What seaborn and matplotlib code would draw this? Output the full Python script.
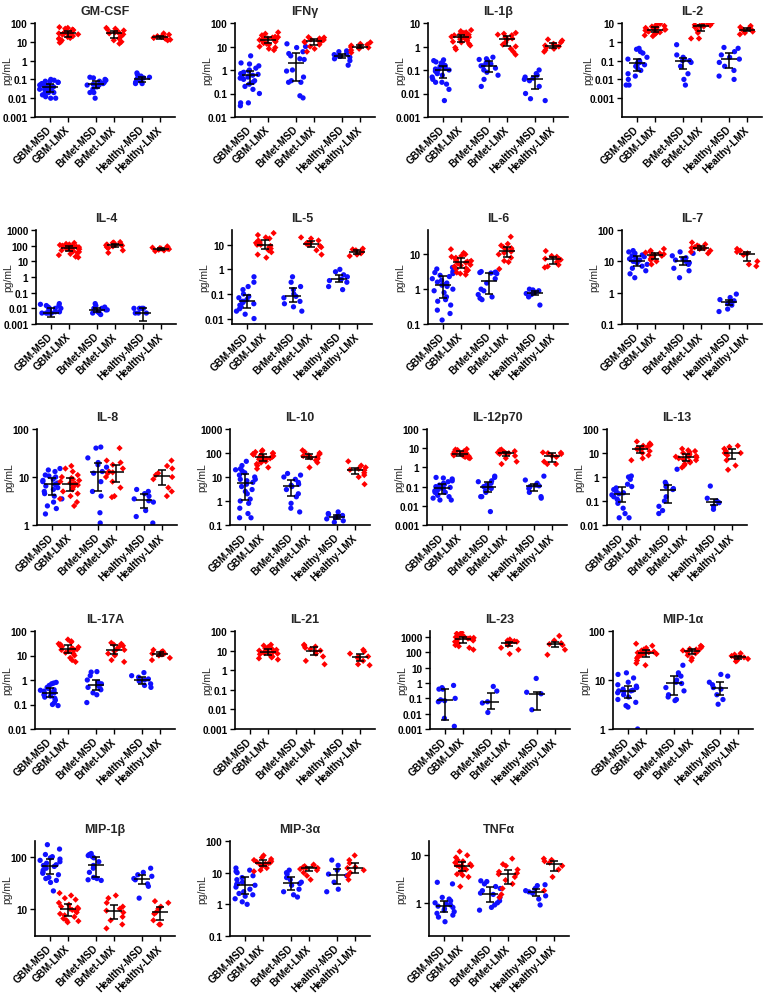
import numpy as np
import pandas as pd
import matplotlib
matplotlib.use("Agg")
import matplotlib.pyplot as plt
import seaborn as sns
from matplotlib.ticker import NullLocator

COHORTS = ["GBM", "BrMet", "Healthy"]
ASSAYS = ["MSD", "LMX"]
TICK_LABELS = ["GBM-MSD", "GBM-LMX", "BrMet-MSD", "BrMet-LMX", "Healthy-MSD", "Healthy-LMX"]
PALETTE = {"MSD": "#1010ff", "LMX": "#ff0000"}

# group order in every list: GBM-MSD, GBM-LMX, BrMet-MSD, BrMet-LMX, Healthy-MSD, Healthy-LMX (pg/mL)
# values < axis minimum are below detection and stay hidden
gm_csf = [
    [0.1, 0.09, 0.08, 0.08, 0.07, 0.07, 0.06, 0.06, 0.05, 0.05, 0.05, 0.04, 0.04, 0.04, 0.04, 0.035, 0.03, 0.03, 0.03, 0.025, 0.02, 0.02, 0.02, 0.015, 0.01, 0.01, 0.012],
    [60, 55, 50, 45, 42, 40, 38, 35, 35, 32, 30, 30, 28, 28, 26, 25, 24, 22, 20, 20, 18, 16, 15, 14, 12, 10, 9],
    [0.13, 0.12, 0.1, 0.09, 0.08, 0.07, 0.06, 0.055, 0.05, 0.05, 0.04, 0.03, 0.02, 0.02, 0.01],
    [55, 50, 45, 40, 35, 32, 30, 28, 25, 20, 15, 12, 10, 8],
    [0.22, 0.18, 0.15, 0.13, 0.12, 0.11, 0.1, 0.08, 0.07, 0.06, 0.06],
    [28, 24, 22, 20, 18, 17, 16, 15, 14, 13, 12],
]
ifn_g = [
    [4, 2, 1.8, 1.5, 1.2, 1, 0.9, 0.8, 0.75, 0.7, 0.65, 0.6, 0.6, 0.5, 0.45, 0.4, 0.35, 0.3, 0.25, 0.2, 0.15, 0.1, 0.04, 0.04, 0.03],
    [40, 35, 30, 28, 26, 25, 24, 22, 21, 20, 20, 19, 18, 17, 16, 15, 14, 13, 12, 10, 9, 8, 7],
    [13, 10, 9, 6, 5, 4, 3, 2.8, 1, 0.9, 0.5, 0.35, 0.3, 0.3, 0.08, 0.065],
    [25, 24, 22, 20, 19, 18, 17, 16, 15, 12, 10, 8, 6],
    [6.5, 6, 5, 4.5, 4, 3.8, 3.5, 3, 2.5, 1.6],
    [15, 13, 12, 11, 10, 9.5, 9, 8, 7, 5.5],
]
il_1b = [
    [0.27, 0.25, 0.22, 0.2, 0.18, 0.16, 0.15, 0.14, 0.12, 0.11, 0.1, 0.1, 0.09, 0.08, 0.07, 0.06, 0.05, 0.04, 0.03, 0.03, 0.025, 0.015, 0.005],
    [5, 4.5, 4, 3.8, 3.5, 3.2, 3, 2.8, 2.6, 2.5, 2.5, 2.4, 2.2, 2, 1.8, 1.6, 1.5, 1.3, 1.1, 0.9, 0.75],
    [0.35, 0.3, 0.28, 0.25, 0.2, 0.18, 0.15, 0.15, 0.12, 0.1, 0.08, 0.06, 0.04, 0.02],
    [3.8, 3.5, 3.2, 3, 2.5, 2.2, 2, 2, 1.5, 1.2, 1, 0.8, 0.6, 0.45],
    [0.1, 0.07, 0.06, 0.05, 0.045, 0.04, 0.035, 0.02, 0.01, 0.006, 0.005],
    [2, 1.8, 1.5, 1.3, 1.2, 1.1, 1, 0.9, 0.8, 0.7, 0.6],
]
il_2 = [
    [0.45, 0.4, 0.3, 0.25, 0.15, 0.12, 0.1, 0.09, 0.08, 0.075, 0.07, 0.06, 0.05, 0.04, 0.03, 0.02, 0.015, 0.01, 0.005, 0.005],
    [11, 9, 8, 7, 6.5, 6, 5.5, 5, 4.8, 4.5, 4.5, 4.2, 4, 3.8, 3.5, 3.2, 3, 2.8, 2.5, 2.2, 2],
    [0.7, 0.2, 0.15, 0.12, 0.1, 0.1, 0.08, 0.05, 0.02, 0.01, 0.005],
    [10, 9, 8.5, 8, 7.5, 7, 6.5, 6, 4, 3, 1.5, 1.5],
    [0.5, 0.45, 0.3, 0.2, 0.15, 0.12, 0.08, 0.05, 0.03, 0.015, 0.01],
    [7, 6, 5.5, 5, 4.5, 4.5, 4, 3.5, 3, 2.5],
]
il_4 = [
    [0.02, 0.018, 0.015, 0.015, 0.012, 0.01, 0.01, 0.01, 0.008, 0.006, 0.006, 0.005, 0.005, 0.005, 0.005, 0.005, 0.005, 0.0005, 0.0005, 0.0005, 0.0005, 0.0005, 0.0005],
    [150, 130, 120, 110, 100, 95, 90, 85, 80, 75, 70, 68, 65, 62, 60, 55, 50, 45, 40, 35, 30, 25, 20, 18],
    [0.02, 0.015, 0.012, 0.01, 0.01, 0.008, 0.008, 0.006, 0.005, 0.005, 0.004],
    [170, 160, 150, 130, 120, 115, 110, 105, 100, 90, 80, 70, 50, 35],
    [0.01, 0.01, 0.01, 0.01, 0.005, 0.005, 0.005, 0.0005, 0.0005, 0.0005],
    [90, 80, 75, 70, 65, 65, 60, 55, 50, 45],
]
il_5 = [
    [0.5, 0.3, 0.2, 0.15, 0.1, 0.08, 0.07, 0.06, 0.05, 0.05, 0.045, 0.04, 0.035, 0.03, 0.025, 0.02, 0.015, 0.01, 0.005],
    [30, 25, 20, 18, 15, 13, 12, 11, 10, 10, 9, 8, 7, 6, 5, 4, 3],
    [0.5, 0.3, 0.2, 0.15, 0.1, 0.08, 0.07, 0.05, 0.04, 0.03, 0.02],
    [20, 18, 15, 13, 12, 11, 10, 9, 8, 6, 4],
    [1, 0.8, 0.6, 0.5, 0.4, 0.35, 0.3, 0.2, 0.15],
    [7, 6.5, 6, 5.5, 5, 4.5, 4, 3.5],
]
il_6 = [
    [4.2, 3.8, 3.2, 3, 2.8, 2.5, 2.3, 2, 1.8, 1.6, 1.5, 1.4, 1.3, 1.2, 1, 0.9, 0.8, 0.6, 0.5, 0.45, 0.35, 0.25, 0.2, 0.13],
    [14, 11, 10, 9, 8.5, 8, 7.5, 7, 6.8, 6.5, 6.2, 6, 5.8, 5.5, 5, 4.8, 4.5, 4, 3.8, 3.5, 3.2, 3, 2.8, 2.6],
    [3.2, 3.1, 3, 3, 2.9, 2.8, 2, 1.5, 1, 0.9, 0.7, 0.6, 0.55, 0.5],
    [32, 20, 18, 16, 15, 14, 13, 12, 11, 10, 8, 6.5, 6, 3.8],
    [1, 0.95, 0.9, 0.85, 0.8, 0.75, 0.7, 0.6, 0.35],
    [12.5, 9, 8.5, 7.5, 7.3, 7, 6, 5, 4.5, 4.2],
]
il_7 = [
    [22, 20, 18, 16, 15, 14, 13, 12, 11, 10, 10, 9, 8, 7, 6, 5, 4, 3],
    [25, 22, 20, 19, 18, 17, 16, 15, 14, 13, 12, 11, 10, 8],
    [20, 18, 15, 13, 12, 11, 10, 9, 8, 6, 5, 3],
    [40, 35, 32, 30, 28, 27, 26, 25, 22, 20, 18],
    [0.9, 0.7, 0.6, 0.55, 0.5, 0.45, 0.4, 0.3, 0.25],
    [25, 22, 20, 18, 17, 16, 10, 8, 7],
]
il_8 = [
    [15, 14, 13, 11, 10.5, 10, 9, 8.5, 8, 7.5, 7, 7, 6.5, 6, 5.5, 5, 4.5, 4, 3.5, 3, 2.5, 2.2, 1.7],
    [17, 15, 13, 11, 10, 9.5, 9, 8.5, 8, 7.5, 7.3, 7, 6.8, 6.5, 6, 5.5, 5, 4.5, 4, 3.5, 3, 2.5],
    [42, 40, 25, 20, 18, 16, 13, 12, 8, 5, 4, 1.8, 1.1],
    [40, 22, 20, 18, 15, 13, 12.5, 12, 10, 8, 6, 4, 3.8],
    [5.5, 5, 4.5, 4, 3.5, 3.2, 3, 2, 1.5, 1.1],
    [22, 17, 15, 12, 11, 10, 9, 6, 5, 4],
]
il_10 = [
    [45, 30, 22, 20, 18, 15, 12, 10, 8, 8, 7, 6, 5, 4, 3, 2.5, 2, 1.2, 1, 0.8, 0.5, 0.3, 0.2, 0.2],
    [130, 120, 110, 100, 95, 90, 85, 80, 75, 70, 68, 65, 62, 60, 58, 55, 50, 45, 40, 35, 30, 25, 22],
    [14, 12, 10, 8, 6, 5, 4.5, 4, 3, 2, 1.5, 0.8, 0.5, 0.35],
    [130, 110, 100, 90, 80, 75, 70, 68, 65, 60, 55, 50, 40, 25],
    [0.35, 0.3, 0.28, 0.25, 0.23, 0.22, 0.2, 0.18, 0.15, 0.13],
    [45, 30, 25, 22, 20, 19, 15, 12, 10, 5],
]
il_12p70 = [
    [0.3, 0.28, 0.25, 0.2, 0.18, 0.15, 0.13, 0.12, 0.1, 0.09, 0.08, 0.08, 0.07, 0.06, 0.05, 0.05, 0.04, 0.035, 0.03, 0.025, 0.02, 0.02],
    [9, 8.5, 8, 7.5, 7, 6.5, 6, 5.5, 5.2, 5, 5, 4.8, 4.5, 4.2, 4, 3.8, 3.5, 3.2, 3],
    [0.35, 0.3, 0.2, 0.18, 0.15, 0.12, 0.1, 0.1, 0.08, 0.06, 0.05, 0.03, 0.03, 0.005],
    [8.5, 8, 7, 6.5, 6, 5.5, 5.5, 5, 4, 3, 2, 1.5],
    [0.35, 0.22, 0.15, 0.12, 0.11, 0.1, 0.08, 0.05, 0.03, 0.025],
    [6, 5.8, 5.5, 5, 4, 3.5, 2, 1.5, 1.5],
]
il_13 = [
    [1.1, 1, 0.8, 0.5, 0.4, 0.35, 0.3, 0.25, 0.22, 0.2, 0.18, 0.15, 0.12, 0.1, 0.08, 0.05, 0.03, 0.02, 0.02],
    [30, 25, 22, 20, 18, 16, 15, 14, 12, 10, 8, 6, 5],
    [2.1, 0.6, 0.5, 0.4, 0.33, 0.3, 0.15, 0.1, 0.06, 0.04, 0.03],
    [15, 13, 12, 11, 10, 9, 8, 7.5, 7, 7, 6.5, 6, 5.5, 5, 4.5, 4, 3.5, 3, 2.5],
    [0.42, 0.13, 0.1, 0.085, 0.06, 0.045],
    [20, 18, 15, 12, 10, 10, 8, 5, 3, 2],
]
il_17a = [
    [0.8, 0.75, 0.7, 0.6, 0.5, 0.45, 0.4, 0.38, 0.35, 0.32, 0.3, 0.3, 0.28, 0.25, 0.22, 0.2, 0.18, 0.15, 0.12, 0.1, 0.09],
    [45, 38, 35, 30, 28, 25, 23, 22, 20, 19, 18, 17, 16, 15, 13, 12, 10, 8, 6.5, 5.5],
    [2.2, 2.1, 1.5, 1, 0.8, 0.7, 0.6, 0.5, 0.45, 0.4, 0.3, 0.25, 0.12],
    [33, 30, 28, 25, 22, 18, 17, 15, 12, 10, 6.5, 5.5],
    [2, 1.5, 1.3, 1.1, 1, 0.9, 0.7, 0.6, 0.5],
    [17, 15, 14, 12, 12, 11, 10, 8, 6.5],
]
il_21 = [
    [],
    [20, 18, 15, 13, 12, 11, 10, 9, 8.5, 8, 7.5, 7, 6.5, 6, 5, 4.5, 4, 3.5],
    [],
    [20, 18, 16, 14, 12, 10, 9, 7, 5, 3, 2],
    [],
    [11, 9, 7, 5, 4.8, 4, 3, 2, 1.8],
]
il_23 = [
    [0.7, 0.5, 0.4, 0.4, 0.1, 0.08, 0.07, 0.06, 0.005, 0.0015, 0.0005, 0.0005],
    [2000, 1700, 1500, 1300, 1100, 1000, 900, 850, 800, 750, 700, 600, 500, 400, 300, 250, 200, 150],
    [0.6, 0.3, 0.06, 0.05, 0.012, 0.0005],
    [700, 600, 550, 500, 450, 400, 380, 350, 300, 200, 150, 80],
    [2, 0.25, 0.2, 0.018, 0.0005],
    [1200, 600, 400, 350, 300, 150, 70],
]
mip_1a = [
    [14, 13, 11, 9, 8, 7.5, 7, 6.5, 6.2, 6, 6, 5.8, 5.5, 5, 4.5, 4, 3.5, 3, 2.8, 1],
    [55, 50, 45, 42, 40, 38, 37, 36, 35, 34, 32, 30, 28, 25, 22, 20],
    [20, 14, 13, 12, 10, 9, 8.5, 7, 6, 5, 4.5, 4, 3.8],
    [50, 48, 45, 43, 42, 40, 39, 37, 35, 32, 28, 25],
    [13, 12, 9, 8, 7, 6.5, 5, 4, 3.2],
    [35, 33, 31, 30, 29, 28, 27, 25, 24],
]
mip_1b = [
    [170, 140, 110, 100, 95, 90, 85, 80, 75, 70, 68, 65, 60, 55, 50, 48, 45, 40, 38, 35, 32, 22],
    [20, 18, 16, 15, 13, 12, 11, 10.5, 10, 10, 9.5, 9, 8.5, 8, 7.5, 7, 6.5, 6, 5.8, 5.5],
    [115, 110, 105, 100, 95, 80, 68, 60, 50, 40, 38, 36, 35],
    [18, 16, 13, 11, 10, 9.2, 8.5, 7, 6, 5, 4.2],
    [60, 50, 45, 42, 38, 36, 30, 27, 16],
    [14, 13, 11, 10, 8.5, 8, 6, 5, 5],
]
mip_3a = [
    [14, 12, 11, 10, 8, 7, 6, 5, 4.5, 4.3, 4, 3.5, 3, 2.5, 2.2, 2, 1.8, 1.5, 1.2, 1],
    [35, 30, 27, 25, 23, 22, 21, 20, 19, 18, 16, 14, 12, 11],
    [12, 10, 9, 7, 6, 5, 4.5, 4, 3, 2.5, 2, 1.7],
    [18, 17, 16, 15, 14, 14, 13, 12, 10, 8, 6],
    [25, 17, 12, 9, 8, 5, 3, 2.5],
    [35, 25, 20, 15, 14, 12, 10, 8, 6],
]
tnf_a = [
    [2.7, 2.5, 1.3, 1.2, 1.1, 1, 0.95, 0.9, 0.85, 0.8, 0.75, 0.7, 0.65, 0.6, 0.55, 0.5, 0.4],
    [12, 10, 9, 8, 7.5, 7, 6.5, 6.2, 6, 6, 5.8, 5.5, 5, 4.5, 4, 3.8, 3.5, 2.2],
    [2.9, 2.8, 2.5, 2.2, 2, 1.8, 1.6, 1.5, 1.3, 1.1, 1, 0.9, 0.8, 0.7],
    [8.5, 6.5, 6, 5, 4.5, 4.2, 4, 3.5, 3, 2.5, 2, 1.5, 1.3],
    [2.4, 2.3, 2, 1.8, 1.7, 1.6, 1.4, 1.2, 0.9],
    [8.5, 8, 7.5, 7, 6, 5, 3.5, 1.8],
]

# title, data, y limits, y ticks, axes left edge (px)
PANELS = [
    ("GM-CSF", gm_csf, (1e-3, 100), [1e-3, 1e-2, 0.1, 1, 10, 100], 35),
    ("IFNγ", ifn_g, (1e-2, 100), [1e-2, 0.1, 1, 10, 100], 235),
    ("IL-1β", il_1b, (1e-3, 10), [1e-3, 1e-2, 0.1, 1, 10], 428),
    ("IL-2", il_2, (1e-4, 10), [1e-3, 1e-2, 0.1, 1, 10], 622),
    ("IL-4", il_4, (1e-3, 1000), [1e-3, 1e-2, 0.1, 1, 10, 100, 1000], 36),
    ("IL-5", il_5, (6e-3, 40), [1e-2, 0.1, 1, 10], 232),
    ("IL-6", il_6, (0.1, 50), [0.1, 1, 10], 428),
    ("IL-7", il_7, (0.1, 100), [0.1, 1, 10, 100], 622),
    ("IL-8", il_8, (1, 100), [1, 10, 100], 37),
    ("IL-10", il_10, (0.1, 1000), [0.1, 1, 10, 100, 1000], 230),
    ("IL-12p70", il_12p70, (1e-3, 100), [1e-3, 1e-2, 0.1, 1, 10, 100], 427),
    ("IL-13", il_13, (1e-2, 100), [1e-2, 0.1, 1, 10, 100], 607),
    ("IL-17A", il_17a, (1e-2, 100), [1e-2, 0.1, 1, 10, 100], 35),
    ("IL-21", il_21, (1e-3, 100), [1e-3, 1e-2, 0.1, 1, 10, 100], 235),
    ("IL-23", il_23, (1e-3, 2500), [1e-3, 1e-2, 0.1, 1, 10, 100, 1000], 430),
    ("MIP-1α", mip_1a, (1, 100), [1, 10, 100], 613),
    ("MIP-1β", mip_1b, (3, 200), [10, 100], 35),
    ("MIP-3α", mip_3a, (0.1, 100), [0.1, 1, 10, 100], 230),
    ("TNFα", tnf_a, (0.2, 20), [1, 10], 429),
]

ROWS = [(24, 118), (231, 325), (430, 526), (632, 730), (842, 937)]
FIG_W, FIG_H = 773, 995
AX_W = 140
POSITIONS = [-0.2, 0.2, 0.8, 1.2, 1.8, 2.2]
LABEL_X = -0.165

sns.set_style("ticks")
plt.rcParams["font.family"] = ["Liberation Sans", "DejaVu Sans"]
np.random.seed(3)

fig = plt.figure(figsize=(FIG_W / 100, FIG_H / 100), dpi=100)


def draw_panel(ax, title, groups, ylim, yticks):
    rows = []
    for k, vals in enumerate(groups):
        for v in vals:
            rows.append((COHORTS[k // 2], ASSAYS[k % 2], v))
    df = pd.DataFrame(rows, columns=["cohort", "assay", "value"])
    ax.set_yscale("log")
    ax.set_ylim(*ylim)

    for assay, marker, size in (("MSD", "o", 3.8), ("LMX", "D", 3.2)):
        sub = df[df["assay"] == assay]
        if sub.empty:
            continue
        sns.stripplot(data=sub, x="cohort", y="value", hue="assay",
                      order=COHORTS, hue_order=ASSAYS, palette=PALETTE,
                      dodge=True, jitter=0.46, marker=marker, size=size,
                      linewidth=0, legend=False, ax=ax, zorder=2)

    # median with interquartile range
    for k, vals in enumerate(groups):
        if not vals:
            continue
        q1, med, q3 = np.percentile(vals, [25, 50, 75])
        pos = POSITIONS[k]
        ax.hlines(med, pos - 0.17, pos + 0.17, color="black", lw=1.1, zorder=3)
        ax.errorbar(pos, med, yerr=[[med - q1], [q3 - med]], fmt="none",
                    ecolor="black", elinewidth=1.1, capsize=3.2, capthick=1.1, zorder=3)

    ax.set_ylim(*ylim)
    ax.set_xlim(-0.52, 2.52)
    ax.set_yticks(yticks)
    ax.set_yticklabels([f"{t:g}" for t in yticks], fontweight="bold", fontsize=7.2)
    ax.yaxis.set_minor_locator(NullLocator())
    ax.set_xticks(POSITIONS)
    ax.set_xticklabels(TICK_LABELS, rotation=45, ha="right", va="center",
                       rotation_mode="anchor", fontweight="bold", fontsize=7.2)
    ax.tick_params(axis="x", pad=4)
    ax.tick_params(axis="y", pad=2)
    ax.tick_params(length=3.5, width=1.0, color="black", labelcolor="black")
    ax.set_xlabel("")
    ax.set_ylabel("pg/mL", fontsize=7.5)
    ax.yaxis.set_label_coords(LABEL_X, 0.5)
    ax.set_title(title, fontsize=9, fontweight="bold", pad=6.5)
    for side in ("left", "bottom"):
        ax.spines[side].set_linewidth(1.2)
        ax.spines[side].set_color("black")
    sns.despine(ax=ax)


for i, (title, groups, ylim, yticks, left) in enumerate(PANELS):
    top, bottom = ROWS[i // 4]
    ax = fig.add_axes([left / FIG_W, 1 - bottom / FIG_H, AX_W / FIG_W, (bottom - top) / FIG_H])
    draw_panel(ax, title, groups, ylim, yticks)

# nudge a y label left where it runs into the tick labels
fig.canvas.draw()
renderer = fig.canvas.get_renderer()
for ax in fig.axes:
    lab = ax.yaxis.label
    lb = lab.get_window_extent(renderer)
    hits = [t.get_window_extent(renderer) for t in ax.get_yticklabels()
            if t.get_window_extent(renderer).overlaps(lb)]
    if hits:
        shift = lb.x1 - min(h.x0 for h in hits) + 2
        ax.yaxis.set_label_coords(LABEL_X - shift / AX_W, 0.5)

fig.savefig("out.png", dpi=100)
